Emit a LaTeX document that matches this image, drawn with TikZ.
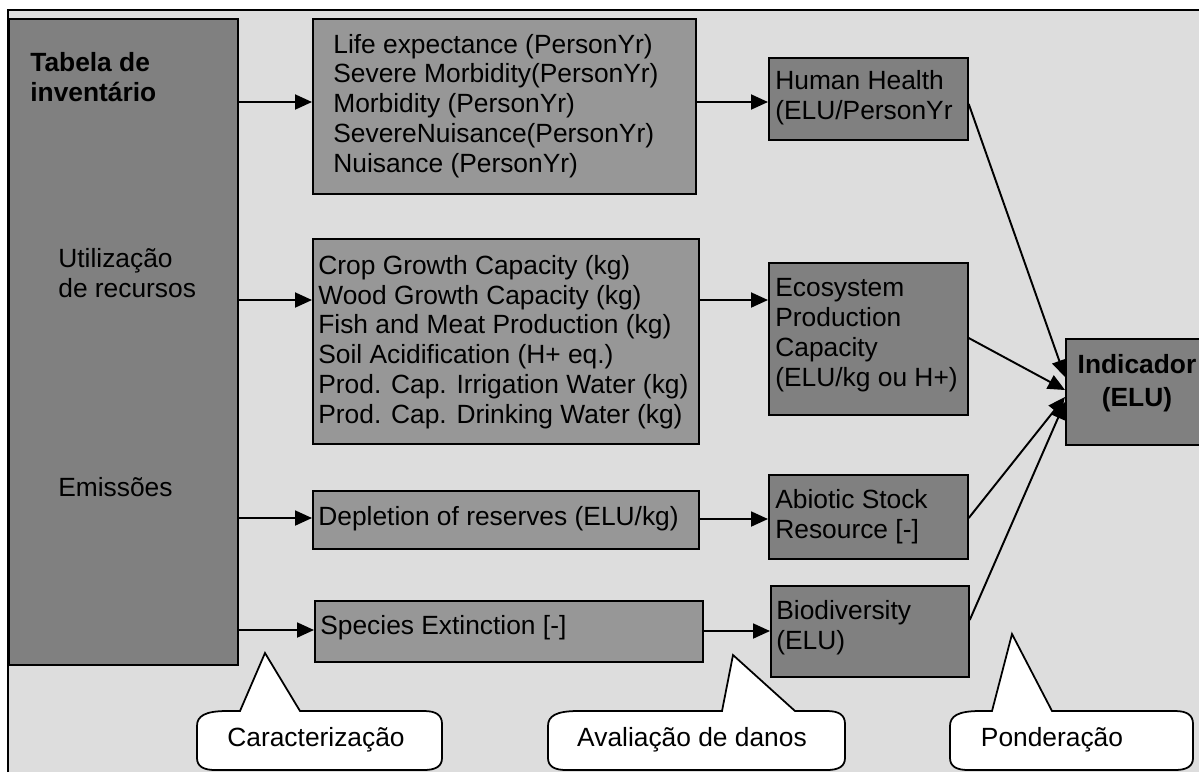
\documentclass[tikz,border=0pt]{standalone}
\usepackage{fontspec}
\setmainfont{Liberation Sans}
\usetikzlibrary{arrows.meta}
\definecolor{panel}{HTML}{DDDDDD}
\definecolor{darkbox}{HTML}{808080}
\definecolor{midbox}{HTML}{979797}

% callout: left, right, base start, base end, tip x, tip y
\newcommand\drawcallout[6]{%
  \draw[callout] (#1,758) -- (#1,726) .. controls (#1,716) and (#1+8,711) .. (#1+30,711)
    -- (#3,711) -- (#5,#6) -- (#4,711) -- (#2-18,711)
    .. controls (#2-6,711) and (#2,715) .. (#2,724) -- (#2,758)
    .. controls (#2,766) and (#2-6,770) .. (#2-18,770) -- (#1+18,770)
    .. controls (#1+6,770) and (#1,766) .. (#1,758) -- cycle;}

\begin{document}
\begin{tikzpicture}[x=0.02cm,y=-0.02cm,
  font=\fontsize{15}{17}\selectfont,
  frame/.style={draw=black, line width=1pt},
  rbox/.style={draw=black, line width=1pt, anchor=north west, inner sep=0pt},
  darkfill/.style={rbox, fill=darkbox},
  midfill/.style={rbox, fill=midbox},
  txt/.style={anchor=west, align=left, inner sep=0pt},
  conn/.style={line width=1.1pt, -{Triangle[length=0.34cm,width=0.3cm]}},
  callout/.style={draw=black, line width=1pt, fill=white}]

\useasboundingbox (0,0) rectangle (1199,772);
\fill[white] (0,0) rectangle (1199,772);
\fill[panel] (8,10) rectangle (1199,772);
\draw[frame] (8,772) -- (8,10) -- (1199,10);

% inventory column
\node[darkfill, minimum width=4.58cm, minimum height=12.92cm] (inv) at (8,18) {};
\node[txt, font=\fontsize{15}{17}\selectfont\bfseries] (invt) at (30,77) {Tabela de\\inventário};
\node[txt] (res) at (58,273) {Utilização\\de recursos};
\node[txt] (emi) at (58,487) {Emissões};

% characterisation boxes
\node[midfill, minimum width=7.66cm, minimum height=3.5cm] (life) at (312,18) {};
\node[txt] (lifet) at (333,106) {Life expectance (PersonYr)\\Severe Morbidity(PersonYr)\\Morbidity (PersonYr)\\SevereNuisance(PersonYr)\\Nuisance (PersonYr)};

\node[midfill, minimum width=7.72cm, minimum height=4.1cm] (crop) at (312,238) {};
\node[txt] (cropt) at (318,342) {Crop Growth Capacity (kg)\\Wood Growth Capacity (kg)\\Fish and Meat Production (kg)\\Soil Acidification (H+ eq.)\\Prod. Cap. Irrigation Water (kg)\\Prod. Cap. Drinking Water (kg)};

\node[midfill, minimum width=7.72cm, minimum height=1.16cm] (depl) at (312,490) {};
\node[txt] (deplt) at (318,519) {Depletion of reserves (ELU/kg)};

\node[midfill, minimum width=7.76cm, minimum height=1.22cm] (spec) at (314,600) {};
\node[txt] (spect) at (320,628) {Species Extinction [-]};

% damage boxes
\node[darkfill, minimum width=3.98cm, minimum height=1.64cm] (hh) at (768,57) {};
\node[txt] (hht) at (775,98) {Human Health\\(ELU/PersonYr};

\node[darkfill, minimum width=3.98cm, minimum height=3.04cm] (eco) at (768,262) {};
\node[txt] (ecot) at (775,335) {Ecosystem\\Production\\Capacity\\(ELU/kg ou H+)};

\node[darkfill, minimum width=3.98cm, minimum height=1.68cm] (abio) at (768,474) {};
\node[txt] (abiot) at (775,517) {Abiotic Stock\\Resource [-]};

\node[darkfill, minimum width=3.96cm, minimum height=1.82cm] (bio) at (770,585) {};
\node[txt] (biot) at (776,628) {Biodiversity\\(ELU)};

% weighted indicator
\node[darkfill, minimum width=2.88cm, minimum height=2.12cm] (ind) at (1065,338) {};
\node[align=center, inner sep=0pt, font=\fontsize{15}{19}\selectfont\bfseries] (indt) at (1137,383) {Indicador\\(ELU)};

% connectors
\draw[conn] (inv.east |- 0,102) -- (life.west |- 0,102);
\draw[conn] (inv.east |- 0,300) -- (crop.west |- 0,300);
\draw[conn] (inv.east |- 0,518) -- (depl.west |- 0,518);
\draw[conn] (inv.east |- 0,630) -- (spec.west |- 0,630);

\draw[conn] (life.east |- 0,102) -- (hh.west |- 0,102);
\draw[conn] (crop.east |- 0,300) -- (eco.west |- 0,300);
\draw[conn] (depl.east |- 0,519) -- (abio.west |- 0,519);
\draw[conn] (spec.east |- 0,631) -- (bio.west |- 0,631);

\draw[conn] (hh.east |- 0,104) -- (ind.west |- 0,377);
\draw[conn] (eco.east |- 0,338) -- (ind.west |- 0,390);
\draw[conn] (abio.east |- 0,518) -- (ind.west |- 0,397);
\draw[conn] (bio.east |- 0,620) -- (ind.west |- 0,402);

% stage callouts
\drawcallout{197}{442}{240}{300}{265}{653}
\node (car) at (316,740) {Caracterização};
\drawcallout{548}{845}{722}{795}{733}{655}
\node (aval) at (692,740) {Avaliação de danos};
\drawcallout{950}{1193}{992}{1052}{1012}{634}
\node (pond) at (1052,740) {Ponderação};
\end{tikzpicture}
\end{document}
